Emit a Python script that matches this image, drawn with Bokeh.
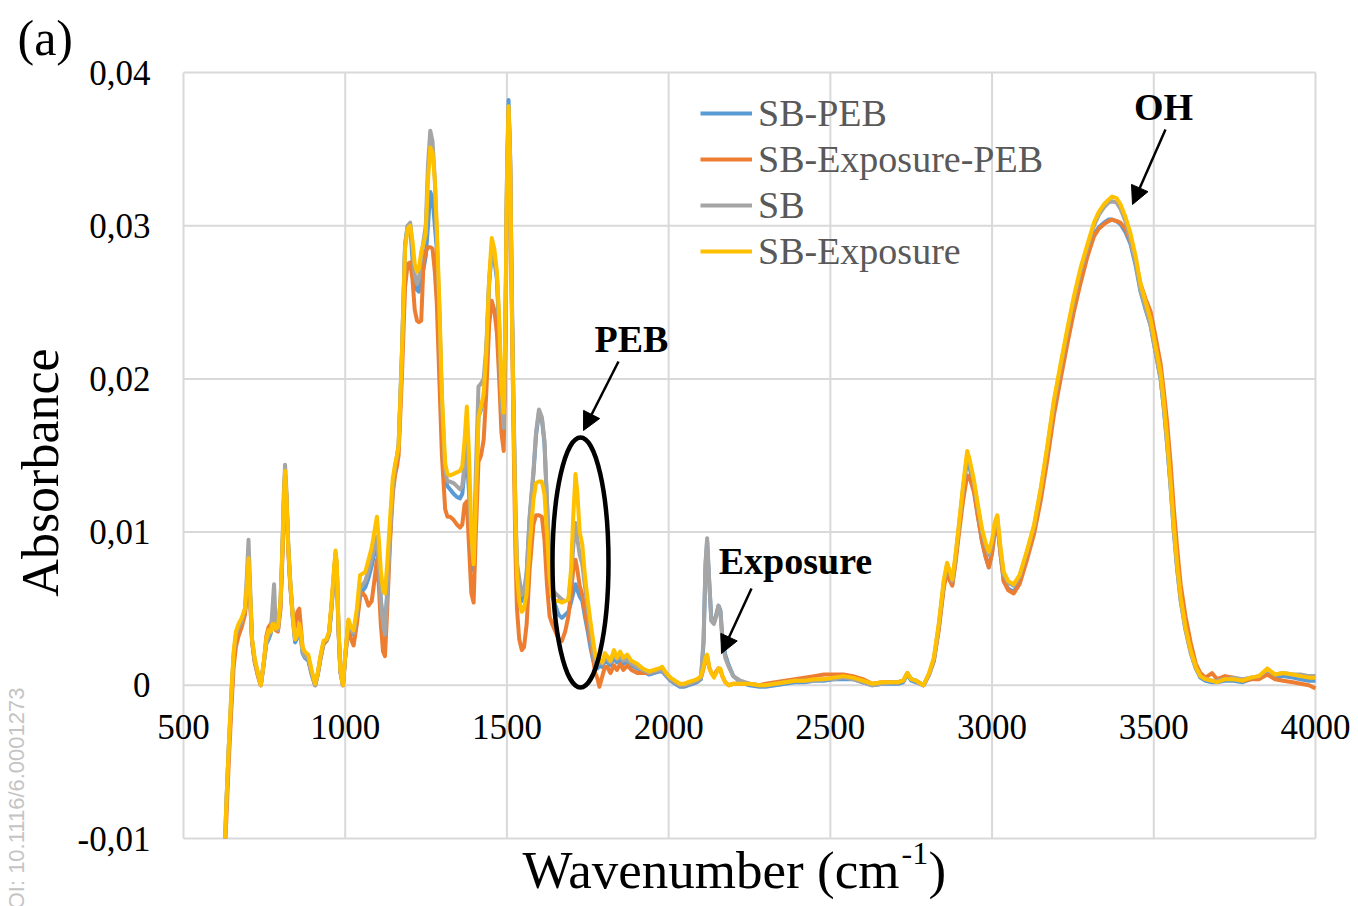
import math
from bokeh.plotting import figure
from bokeh.models import (Range1d, FixedTicker, Legend, LegendItem, Label, Arrow, NormalHead)
from bokeh.embed import file_html
from bokeh.resources import INLINE

# ---------------- data ----------------
WAVENUMBER = [
    629, 632, 640, 648, 655, 662, 670, 680, 690, 696,
    701, 706, 712, 720, 730, 739, 748, 756, 763, 770,
    775, 780, 785, 792, 800, 806, 810, 814, 818, 824,
    830, 838, 845, 852, 858, 863, 868, 875, 886, 896,
    907, 915, 924, 933, 942, 950, 958, 965, 970, 974,
    979, 985, 993, 1000, 1010, 1018, 1026, 1036, 1046, 1055,
    1062, 1072, 1082, 1090, 1098, 1104, 1110, 1117, 1123, 1130,
    1139, 1147, 1154, 1160, 1165, 1175, 1185, 1193, 1201, 1208,
    1215, 1222, 1228, 1235, 1242, 1249, 1256, 1263, 1270, 1277,
    1283, 1291, 1299, 1309, 1316, 1324, 1335, 1345, 1355, 1362,
    1369, 1376, 1383, 1390, 1397, 1404, 1412, 1420, 1428, 1436,
    1445, 1453, 1461, 1469, 1476, 1483, 1490, 1495, 1500, 1505,
    1510, 1515, 1520, 1526, 1531, 1538, 1546, 1553, 1561, 1570,
    1582, 1590, 1599, 1608, 1616, 1624, 1632, 1640, 1650, 1660,
    1670, 1680, 1690, 1698, 1705, 1712, 1718, 1725, 1733, 1741,
    1750, 1758, 1766, 1773, 1779, 1786, 1795, 1803, 1810, 1820,
    1831, 1840, 1850, 1860, 1872, 1885, 1903, 1920, 1940, 1954,
    1970, 1980, 1993, 2006, 2020, 2035, 2047, 2060, 2075, 2088,
    2100, 2108, 2114, 2119, 2125, 2132, 2140, 2147, 2154, 2160,
    2166, 2175, 2186, 2200, 2222, 2250, 2280, 2300, 2330, 2360,
    2390, 2420, 2450, 2480, 2510, 2540, 2570, 2600, 2630, 2660,
    2690, 2710, 2725, 2738, 2750, 2765, 2788, 2805, 2820, 2835,
    2851, 2861, 2870, 2877, 2887, 2897, 2910, 2923, 2930, 2944,
    2956, 2969, 2980, 2990, 3000, 3008, 3016, 3026, 3036, 3050,
    3067, 3085, 3108, 3130, 3150, 3170, 3191, 3212, 3232, 3252,
    3273, 3295, 3315, 3330, 3346, 3360, 3371, 3385, 3397, 3412,
    3428, 3444, 3459, 3475, 3490, 3505, 3521, 3531, 3541, 3552,
    3562, 3572, 3583, 3598, 3614, 3630, 3644, 3660, 3680, 3696,
    3720, 3747, 3775, 3800, 3825, 3851, 3875, 3900, 3930, 3954,
    3980, 4000,
]

SB_PEB = [
    -0.010, -0.008, -0.004, -0.001, 0.0018, 0.0030, 0.0036, 0.0040, 0.0048, 0.0062,
    0.0080, 0.0058, 0.0029, 0.0016, 0.0007, 0.0000, 0.0014, 0.0027, 0.0030, 0.0034,
    0.0045, 0.0055, 0.0038, 0.0036, 0.0052, 0.0088, 0.0118, 0.0138, 0.0124, 0.0089,
    0.0066, 0.0043, 0.0028, 0.0031, 0.0036, 0.0031, 0.0021, 0.0018, 0.0016, 0.0007,
    0.0000, 0.0007, 0.0018, 0.0027, 0.0029, 0.0033, 0.0051, 0.0070, 0.0085, 0.0077,
    0.0037, 0.0009, 0.0000, 0.0019, 0.0041, 0.0035, 0.0033, 0.0043, 0.0060, 0.0062,
    0.0064, 0.0070, 0.0078, 0.0086, 0.0094, 0.0078, 0.0056, 0.0042, 0.0036, 0.0062,
    0.0100, 0.0128, 0.0140, 0.0148, 0.0155, 0.0213, 0.0287, 0.0300, 0.0300, 0.0278,
    0.0262, 0.0258, 0.0257, 0.0265, 0.0272, 0.0280, 0.0300, 0.0322, 0.0318, 0.0300,
    0.0285, 0.0240, 0.0180, 0.0135, 0.0130, 0.0128, 0.0125, 0.0123, 0.0122, 0.0125,
    0.0140, 0.0150, 0.0125, 0.0090, 0.0075, 0.0125, 0.0175, 0.0180, 0.0188, 0.0215,
    0.0262, 0.0282, 0.0278, 0.0265, 0.0232, 0.0183, 0.0168, 0.0228, 0.0330, 0.0382,
    0.0345, 0.0255, 0.0185, 0.0115, 0.0075, 0.0065, 0.0055, 0.0058, 0.0072, 0.0108,
    0.0138, 0.0163, 0.0178, 0.0174, 0.0158, 0.0118, 0.0078, 0.0058, 0.0052, 0.0046,
    0.0044, 0.0046, 0.0048, 0.0054, 0.0060, 0.0066, 0.0062, 0.0058, 0.0055, 0.0045,
    0.0035, 0.0025, 0.0017, 0.0012, 0.0011, 0.0013, 0.0012, 0.0016, 0.0015, 0.0013,
    0.0018, 0.0015, 0.0017, 0.0014, 0.0016, 0.0013, 0.0011, 0.0009, 0.0007, 0.0008,
    0.0009, 0.0009, 0.0006, 0.0003, 0.0001, -0.0001, -0.0001, 0.0000, 0.0001, 0.0002,
    0.0004, 0.0028, 0.0078, 0.0094, 0.0069, 0.0043, 0.0041, 0.0046, 0.0052, 0.0049,
    0.0032, 0.0020, 0.0013, 0.0006, 0.0002, 0.0000, -0.0001, -0.0001, 0.0000, 0.0001,
    0.0002, 0.0002, 0.0003, 0.0003, 0.0004, 0.0004, 0.0004, 0.0002, 0.0000, 0.0001,
    0.0001, 0.0001, 0.0002, 0.0007, 0.0003, 0.0002, 0.0000, 0.0007, 0.0016, 0.0037,
    0.0066, 0.0077, 0.0070, 0.0066, 0.0082, 0.0101, 0.0126, 0.0148, 0.0143, 0.0128,
    0.0111, 0.0094, 0.0084, 0.0077, 0.0087, 0.0100, 0.0106, 0.0086, 0.0068, 0.0063,
    0.0061, 0.0068, 0.0084, 0.0101, 0.0123, 0.0150, 0.0180, 0.0204, 0.0226, 0.0246,
    0.0264, 0.0281, 0.0294, 0.0299, 0.0302, 0.0304, 0.0304, 0.0303, 0.0301, 0.0296,
    0.0288, 0.0274, 0.0257, 0.0245, 0.0235, 0.0218, 0.0200, 0.0181, 0.0158, 0.0130,
    0.0101, 0.0077, 0.0056, 0.0037, 0.0022, 0.0011, 0.0005, 0.0003, 0.0002, 0.0002,
    0.0003, 0.0003, 0.0002, 0.0004, 0.0005, 0.0009, 0.0005, 0.0006, 0.0005, 0.0004,
    0.0003, 0.0003,
]

SB_EXPOSURE_PEB = [
    -0.010, -0.009, -0.005, -0.0015, 0.0012, 0.0025, 0.0032, 0.0038, 0.0046, 0.0060,
    0.0078, 0.0056, 0.0028, 0.0015, 0.0006, 0.0000, 0.0014, 0.0032, 0.0038, 0.0040,
    0.0042, 0.0042, 0.0036, 0.0035, 0.0050, 0.0085, 0.0115, 0.0136, 0.0122, 0.0088,
    0.0065, 0.0045, 0.0038, 0.0048, 0.0050, 0.0038, 0.0025, 0.0021, 0.0018, 0.0008,
    0.0000, 0.0007, 0.0018, 0.0027, 0.0029, 0.0034, 0.0053, 0.0072, 0.0086, 0.0077,
    0.0037, 0.0009, 0.0000, 0.0018, 0.0038, 0.0030, 0.0026, 0.0040, 0.0058, 0.0060,
    0.0058, 0.0052, 0.0055, 0.0068, 0.0082, 0.0065, 0.0040, 0.0022, 0.0019, 0.0050,
    0.0095, 0.0125, 0.0137, 0.0143, 0.0150, 0.0200, 0.0260, 0.0275, 0.0276, 0.0265,
    0.0245, 0.0238, 0.0237, 0.0238, 0.0275, 0.0283, 0.0286, 0.0286, 0.0285, 0.0270,
    0.0250, 0.0200, 0.0150, 0.0115, 0.0110, 0.0110, 0.0108, 0.0105, 0.0103, 0.0105,
    0.0118, 0.0120, 0.0090, 0.0060, 0.0054, 0.0100, 0.0146, 0.0150, 0.0160, 0.0190,
    0.0235, 0.0251, 0.0245, 0.0230, 0.0200, 0.0165, 0.0153, 0.0215, 0.0320, 0.0375,
    0.0340, 0.0250, 0.0170, 0.0090, 0.0050, 0.0030, 0.0023, 0.0025, 0.0040, 0.0075,
    0.0105, 0.0111, 0.0111, 0.0110, 0.0095, 0.0065, 0.0045, 0.0040, 0.0035, 0.0030,
    0.0029, 0.0035, 0.0045, 0.0060, 0.0075, 0.0082, 0.0075, 0.0065, 0.0059, 0.0048,
    0.0038, 0.0029, 0.0018, 0.0008, 0.0005, -0.0001, 0.0006, 0.0012, 0.0012, 0.0008,
    0.0013, 0.0010, 0.0014, 0.0010, 0.0013, 0.0010, 0.0008, 0.0008, 0.0008, 0.0009,
    0.0010, 0.0010, 0.0007, 0.0004, 0.0002, 0.0000, 0.0000, 0.0001, 0.0002, 0.0003,
    0.0005, 0.0011, 0.0017, 0.0019, 0.0012, 0.0008, 0.0006, 0.0009, 0.0011, 0.0010,
    0.0006, 0.0002, 0.0000, 0.0001, 0.0001, 0.0001, 0.0000, 0.0001, 0.0002, 0.0003,
    0.0004, 0.0005, 0.0006, 0.0007, 0.0007, 0.0007, 0.0006, 0.0004, 0.0001, 0.0002,
    0.0002, 0.0002, 0.0003, 0.0008, 0.0004, 0.0003, 0.0000, 0.0007, 0.0016, 0.0036,
    0.0064, 0.0074, 0.0068, 0.0065, 0.0080, 0.0098, 0.0120, 0.0137, 0.0136, 0.0126,
    0.0110, 0.0094, 0.0084, 0.0077, 0.0086, 0.0100, 0.0106, 0.0086, 0.0068, 0.0062,
    0.0060, 0.0066, 0.0082, 0.0099, 0.0120, 0.0146, 0.0176, 0.0200, 0.0222, 0.0243,
    0.0262, 0.0280, 0.0293, 0.0298, 0.0301, 0.0303, 0.0304, 0.0303, 0.0302, 0.0298,
    0.0290, 0.0277, 0.0262, 0.0252, 0.0244, 0.0228, 0.0210, 0.0192, 0.0172, 0.0145,
    0.0115, 0.0090, 0.0066, 0.0045, 0.0028, 0.0014, 0.0008, 0.0005, 0.0008, 0.0004,
    0.0006, 0.0005, 0.0003, 0.0004, 0.0004, 0.0007, 0.0004, 0.0003, 0.0002, 0.0001,
    0.0000, -0.0002,
]

SB = [
    -0.010, -0.008, -0.004, -0.0005, 0.0020, 0.0033, 0.0038, 0.0042, 0.0050, 0.0072,
    0.0095, 0.0065, 0.0030, 0.0016, 0.0007, 0.0000, 0.0014, 0.0028, 0.0032, 0.0036,
    0.0050, 0.0066, 0.0040, 0.0036, 0.0055, 0.0092, 0.0125, 0.0144, 0.0128, 0.0092,
    0.0068, 0.0045, 0.0030, 0.0032, 0.0038, 0.0032, 0.0022, 0.0019, 0.0017, 0.0008,
    0.0000, 0.0007, 0.0019, 0.0028, 0.0030, 0.0034, 0.0052, 0.0072, 0.0086, 0.0078,
    0.0038, 0.0009, 0.0000, 0.0019, 0.0042, 0.0036, 0.0034, 0.0046, 0.0064, 0.0066,
    0.0068, 0.0075, 0.0083, 0.0090, 0.0097, 0.0080, 0.0055, 0.0040, 0.0033, 0.0060,
    0.0100, 0.0130, 0.0142, 0.0150, 0.0157, 0.0215, 0.0288, 0.0300, 0.0302, 0.0285,
    0.0268, 0.0262, 0.0265, 0.0280, 0.0290, 0.0300, 0.0340, 0.0362, 0.0355, 0.0330,
    0.0295, 0.0245, 0.0185, 0.0140, 0.0133, 0.0133, 0.0132, 0.0130, 0.0128, 0.0130,
    0.0145, 0.0160, 0.0130, 0.0095, 0.0080, 0.0140, 0.0195, 0.0197, 0.0200, 0.0220,
    0.0265, 0.0285, 0.0280, 0.0268, 0.0235, 0.0185, 0.0168, 0.0225, 0.0325, 0.0378,
    0.0345, 0.0260, 0.0190, 0.0120, 0.0080, 0.0070, 0.0059, 0.0062, 0.0074, 0.0110,
    0.0140, 0.0165, 0.0180, 0.0175, 0.0160, 0.0120, 0.0080, 0.0062, 0.0060, 0.0058,
    0.0056, 0.0055, 0.0056, 0.0070, 0.0090, 0.0106, 0.0095, 0.0085, 0.0079, 0.0065,
    0.0050, 0.0035, 0.0022, 0.0015, 0.0013, 0.0015, 0.0014, 0.0018, 0.0017, 0.0015,
    0.0020, 0.0017, 0.0019, 0.0016, 0.0017, 0.0014, 0.0012, 0.0010, 0.0008, 0.0009,
    0.0010, 0.0010, 0.0007, 0.0004, 0.0002, 0.0000, 0.0000, 0.0001, 0.0002, 0.0003,
    0.0005, 0.0030, 0.0080, 0.0096, 0.0070, 0.0042, 0.0040, 0.0045, 0.0052, 0.0048,
    0.0030, 0.0018, 0.0012, 0.0006, 0.0003, 0.0001, 0.0000, 0.0000, 0.0001, 0.0002,
    0.0003, 0.0003, 0.0003, 0.0004, 0.0004, 0.0005, 0.0004, 0.0002, 0.0000, 0.0001,
    0.0002, 0.0002, 0.0003, 0.0007, 0.0004, 0.0003, 0.0000, 0.0007, 0.0017, 0.0039,
    0.0068, 0.0079, 0.0073, 0.0068, 0.0084, 0.0103, 0.0128, 0.0150, 0.0146, 0.0132,
    0.0116, 0.0100, 0.0091, 0.0085, 0.0093, 0.0104, 0.0110, 0.0089, 0.0072, 0.0067,
    0.0065, 0.0071, 0.0087, 0.0104, 0.0127, 0.0154, 0.0184, 0.0208, 0.0230, 0.0251,
    0.0270, 0.0286, 0.0300, 0.0307, 0.0312, 0.0315, 0.0316, 0.0315, 0.0311, 0.0303,
    0.0291, 0.0276, 0.0258, 0.0246, 0.0235, 0.0218, 0.0200, 0.0181, 0.0158, 0.0129,
    0.0100, 0.0076, 0.0055, 0.0036, 0.0021, 0.0011, 0.0006, 0.0004, 0.0003, 0.0003,
    0.0004, 0.0005, 0.0004, 0.0005, 0.0006, 0.0010, 0.0007, 0.0008, 0.0007, 0.0007,
    0.0006, 0.0006,
]

SB_EXPOSURE = [
    -0.010, -0.008, -0.004, -0.0005, 0.0022, 0.0035, 0.0040, 0.0044, 0.0050, 0.0065,
    0.0083, 0.0060, 0.0030, 0.0018, 0.0008, 0.0000, 0.0015, 0.0030, 0.0036, 0.0035,
    0.0040, 0.0040, 0.0037, 0.0038, 0.0055, 0.0090, 0.0120, 0.0140, 0.0125, 0.0090,
    0.0068, 0.0045, 0.0030, 0.0033, 0.0040, 0.0035, 0.0025, 0.0022, 0.0020, 0.0010,
    0.0001, 0.0008, 0.0020, 0.0029, 0.0030, 0.0035, 0.0055, 0.0075, 0.0088, 0.0080,
    0.0040, 0.0010, 0.0000, 0.0020, 0.0043, 0.0038, 0.0036, 0.0050, 0.0072, 0.0073,
    0.0074, 0.0082, 0.0090, 0.0100, 0.0110, 0.0095, 0.0075, 0.0062, 0.0060, 0.0080,
    0.0110, 0.0135, 0.0144, 0.0150, 0.0156, 0.0213, 0.0285, 0.0298, 0.0300, 0.0290,
    0.0275, 0.0270, 0.0272, 0.0283, 0.0288, 0.0295, 0.0330, 0.0351, 0.0348, 0.0330,
    0.0300, 0.0250, 0.0190, 0.0145, 0.0138, 0.0137, 0.0138, 0.0139, 0.0140, 0.0143,
    0.0160, 0.0182, 0.0150, 0.0100, 0.0079, 0.0120, 0.0175, 0.0182, 0.0190, 0.0215,
    0.0265, 0.0292, 0.0285, 0.0270, 0.0240, 0.0195, 0.0178, 0.0230, 0.0330, 0.0378,
    0.0340, 0.0250, 0.0180, 0.0110, 0.0072, 0.0055, 0.0048, 0.0050, 0.0060, 0.0090,
    0.0121, 0.0132, 0.0133, 0.0133, 0.0125, 0.0098, 0.0070, 0.0058, 0.0055, 0.0055,
    0.0054, 0.0055, 0.0056, 0.0075, 0.0110, 0.0138, 0.0125, 0.0100, 0.0092, 0.0072,
    0.0055, 0.0042, 0.0030, 0.0020, 0.0016, 0.0017, 0.0015, 0.0021, 0.0019, 0.0016,
    0.0023, 0.0018, 0.0022, 0.0018, 0.0020, 0.0016, 0.0014, 0.0011, 0.0009, 0.0010,
    0.0011, 0.0012, 0.0008, 0.0005, 0.0003, 0.0001, 0.0001, 0.0002, 0.0003, 0.0004,
    0.0006, 0.0012, 0.0018, 0.0020, 0.0012, 0.0008, 0.0005, 0.0008, 0.0011, 0.0011,
    0.0006, 0.0002, 0.0000, 0.0001, 0.0001, 0.0001, 0.0000, 0.0000, 0.0001, 0.0002,
    0.0003, 0.0003, 0.0004, 0.0004, 0.0005, 0.0006, 0.0005, 0.0003, 0.0001, 0.0002,
    0.0002, 0.0002, 0.0003, 0.0008, 0.0004, 0.0003, 0.0000, 0.0008, 0.0018, 0.0040,
    0.0069, 0.0080, 0.0074, 0.0069, 0.0085, 0.0104, 0.0130, 0.0153, 0.0148, 0.0134,
    0.0118, 0.0102, 0.0093, 0.0087, 0.0095, 0.0106, 0.0111, 0.0090, 0.0074, 0.0068,
    0.0066, 0.0072, 0.0088, 0.0105, 0.0128, 0.0155, 0.0186, 0.0210, 0.0232, 0.0253,
    0.0272, 0.0288, 0.0302, 0.0309, 0.0314, 0.0317, 0.0319, 0.0318, 0.0314, 0.0306,
    0.0295, 0.0280, 0.0262, 0.0250, 0.0239, 0.0222, 0.0204, 0.0185, 0.0162, 0.0133,
    0.0104, 0.0080, 0.0058, 0.0038, 0.0023, 0.0012, 0.0006, 0.0004, 0.0003, 0.0002,
    0.0004, 0.0004, 0.0003, 0.0005, 0.0006, 0.0011, 0.0007, 0.0008, 0.0007, 0.0006,
    0.0005, 0.0005,
]

SERIES_NAMES = ["SB-PEB", "SB-Exposure-PEB", "SB", "SB-Exposure"]
SERIES_COLORS = ["#5B9BD5", "#ED7D31", "#A5A5A5", "#FFC000"]

X_TICKS = [500, 1000, 1500, 2000, 2500, 3000, 3500, 4000]
Y_TICKS = [-0.01, 0, 0.01, 0.02, 0.03, 0.04]
Y_TICK_LABELS = ["-0,01", "0", "0,01", "0,02", "0,03", "0,04"]

# ---------------- layout: the frame covers the whole canvas ----------------
W, H = 1358, 906
AREA_L, AREA_R, AREA_T, AREA_B = 183, 1315, 72, 838     # plot-area pixel box
X0, X1 = X_TICKS[0], X_TICKS[-1]
Y0, Y1 = Y_TICKS[0], Y_TICKS[-1]
sx = (AREA_R - AREA_L) / (X1 - X0)
sy = (AREA_B - AREA_T) / (Y1 - Y0)
x_range = Range1d(X0 - AREA_L / sx, X1 + (W - AREA_R) / sx)
y_range = Range1d(Y0 - (H - AREA_B) / sy, Y1 + AREA_T / sy)

def px_x(px):
    return x_range.start + px / sx

def px_y(py):
    return y_range.end - py / sy

SERIF = "Liberation Serif"
GRID = "#D9D9D9"

p = figure(width=W, height=H, x_range=x_range, y_range=y_range,
           output_backend="svg", toolbar_location=None, title=None,
           min_border=0, min_border_left=0, min_border_right=0,
           min_border_top=0, min_border_bottom=0)
p.background_fill_color = "white"
p.border_fill_color = "white"
p.outline_line_color = None
p.xgrid.visible = False
p.ygrid.visible = False

# grid lines (plot-area box included) at the tick values
p.segment(x0=X_TICKS, y0=[Y0] * len(X_TICKS), x1=X_TICKS, y1=[Y1] * len(X_TICKS),
          line_color=GRID, line_width=2)
p.segment(x0=[X0] * len(Y_TICKS), y0=Y_TICKS, x1=[X1] * len(Y_TICKS), y1=Y_TICKS,
          line_color=GRID, line_width=2)

for ax in (p.xaxis, p.yaxis):
    ax.major_tick_line_color = None
    ax.minor_tick_line_color = None
    ax.major_tick_out = 0
    ax.major_tick_in = 0
    ax.axis_line_color = None
    ax.major_label_text_font = SERIF
    ax.major_label_text_font_size = "35px"
    ax.major_label_text_color = "black"

p.xaxis.ticker = FixedTicker(ticks=X_TICKS)
p.xaxis.fixed_location = 0
p.xaxis.bounds = (X0, X1)
p.xaxis.major_label_standoff = 30

p.yaxis.ticker = FixedTicker(ticks=Y_TICKS)
p.yaxis.major_label_overrides = dict(zip(Y_TICKS, Y_TICK_LABELS))
p.yaxis.fixed_location = X0
p.yaxis.bounds = (Y0, Y1)
p.yaxis.major_label_standoff = 33

renderers = []
for name, ys, col in zip(SERIES_NAMES, [SB_PEB, SB_EXPOSURE_PEB, SB, SB_EXPOSURE], SERIES_COLORS):
    r = p.line(WAVENUMBER, ys, line_color=col, line_width=4, line_join="round")
    renderers.append(r)

legend = Legend(items=[LegendItem(label=n, renderers=[r]) for n, r in zip(SERIES_NAMES, renderers)],
                location=(700, 633), orientation="vertical",
                padding=0, spacing=2, margin=0,
                glyph_width=52, glyph_height=40, label_height=40, label_standoff=6,
                label_text_font=SERIF, label_text_font_size="38px", label_text_color="#595959",
                label_text_baseline="middle",
                border_line_color=None, background_fill_alpha=0)
p.add_layout(legend, "center")

# ---------------- annotations ----------------
p.ellipse(x=[px_x(580)], y=[px_y(562)], width=[56 / sx], height=[250 / sy],
          fill_color=None, line_color="black", line_width=4.5)

def bold_label(cx, cy, text):
    p.add_layout(Label(x=px_x(cx), y=px_y(cy), text=text, text_font=SERIF, text_font_size="38px",
                       text_font_style="bold", text_color="black",
                       text_align="center", text_baseline="middle"))

bold_label(631, 338, "PEB")
bold_label(795, 560, "Exposure")
bold_label(1163, 106, "OH")

def arrow(ax0, ay0, ax1, ay1):
    p.add_layout(Arrow(end=NormalHead(size=18, fill_color="black", line_color="black"),
                       x_start=px_x(ax0), y_start=px_y(ay0), x_end=px_x(ax1), y_end=px_y(ay1),
                       line_color="black", line_width=2.5))

arrow(618, 361, 583, 430)
arrow(751, 588, 721, 653)
arrow(1165, 129, 1132, 204)

# panel letter
p.add_layout(Label(x=px_x(17), y=px_y(37), text="(a)", text_font=SERIF, text_font_size="50px",
                   text_color="black", text_align="left", text_baseline="middle"))

# y axis title
p.add_layout(Label(x=px_x(40), y=px_y(472), text="Absorbance", angle=math.pi / 2,
                   text_font=SERIF, text_font_size="52px", text_color="black",
                   text_align="center", text_baseline="middle"))

# x axis title with superscript
TX, TY = px_x(522), px_y(869)
p.add_layout(Label(x=TX, y=TY, text="Wavenumber (cm", text_font=SERIF,
                   text_font_size="53px", text_color="black", text_align="left",
                   text_baseline="alphabetic"))
p.add_layout(Label(x=TX, y=TY, x_offset=379, y_offset=16, text="-1", text_font=SERIF,
                   text_font_size="32px", text_color="black", text_align="left",
                   text_baseline="alphabetic"))
p.add_layout(Label(x=TX, y=TY, x_offset=406, text=")", text_font=SERIF,
                   text_font_size="53px", text_color="black", text_align="left",
                   text_baseline="alphabetic"))

# watermark
p.add_layout(Label(x=px_x(16), y=px_y(687), text="DOI: 10.1116/6.0001273", angle=math.pi / 2,
                   text_font="Liberation Sans Narrow, Liberation Sans", text_font_size="22px",
                   text_color="#C4C4C4", text_align="right", text_baseline="middle"))

open("out.html", "w").write(file_html(p, INLINE))
